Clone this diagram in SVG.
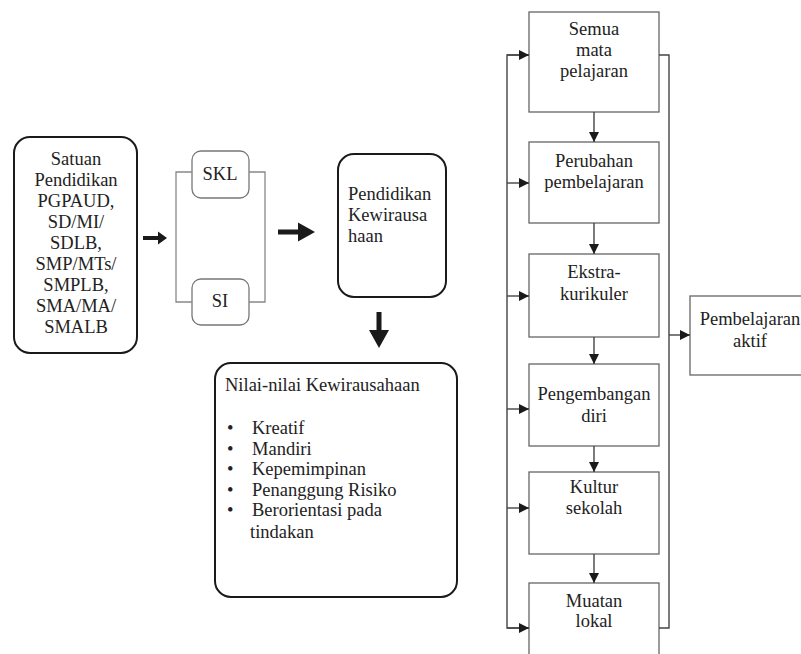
<svg xmlns="http://www.w3.org/2000/svg" width="801" height="654" viewBox="0 0 801 654" font-family="'Liberation Serif', 'DejaVu Serif', serif">
<defs>
<style>
text{font-family:'Liberation Serif','DejaVu Serif',serif;font-size:18.5px;fill:#222}
.c{text-anchor:middle}
.bold{fill:#fff;stroke:#1a1a1a;stroke-width:2}
.thin{fill:#fff;stroke:#777;stroke-width:1.3}
.box{fill:#fff;stroke:#666;stroke-width:1.3}
.ln{fill:none;stroke:#444;stroke-width:1.4}
.br{fill:none;stroke:#888;stroke-width:1.3}
.fat{fill:#1a1a1a}
</style>
<marker id="ah" viewBox="0 0 10 10" refX="10" refY="5" markerWidth="10" markerHeight="10" markerUnits="userSpaceOnUse" orient="auto">
<path d="M0,0 L10,5 L0,10 z" fill="#1a1a1a"/>
</marker>
</defs>
<rect width="801" height="654" fill="#fff"/>

<g id="satuan">
<rect class="bold" x="14" y="137" width="123" height="216" rx="16"/>
<text class="c" x="76" y="165">Satuan</text>
<text class="c" x="76" y="186">Pendidikan</text>
<text class="c" x="76" y="207">PGPAUD,</text>
<text class="c" x="76" y="228">SD/MI/</text>
<text class="c" x="76" y="249">SDLB,</text>
<text class="c" x="76" y="270">SMP/MTs/</text>
<text class="c" x="76" y="291">SMPLB,</text>
<text class="c" x="76" y="312">SMA/MA/</text>
<text class="c" x="76" y="333">SMALB</text>
</g>

<g id="skl">
<rect class="thin" x="192" y="151" width="57" height="47" rx="9"/>
<text class="c" x="220" y="180">SKL</text>
</g>
<g id="si">
<rect class="thin" x="192" y="279" width="57" height="46" rx="9"/>
<text class="c" x="220" y="307">SI</text>
</g>

<g id="pendidikan-kewirausahaan">
<rect class="bold" x="338" y="154" width="108" height="143" rx="16"/>
<text x="348" y="200">Pendidikan</text>
<text x="348" y="221">Kewirausa</text>
<text x="348" y="242">haan</text>
</g>

<g id="nilai">
<rect class="bold" x="215" y="363" width="242" height="234" rx="16"/>
<text x="225" y="391">Nilai-nilai Kewirausahaan</text>
<text x="227" y="434">•</text><text x="252" y="434">Kreatif</text>
<text x="227" y="455">•</text><text x="252" y="455">Mandiri</text>
<text x="227" y="475">•</text><text x="252" y="475">Kepemimpinan</text>
<text x="227" y="496">•</text><text x="252" y="496">Penanggung Risiko</text>
<text x="227" y="516">•</text><text x="252" y="516">Berorientasi pada</text>
<text x="250" y="538">tindakan</text>
</g>

<g id="semua-mata-pelajaran">
<rect class="box" x="529" y="12" width="130" height="100"/>
<text class="c" x="594" y="35">Semua</text>
<text class="c" x="594" y="56">mata</text>
<text class="c" x="594" y="77">pelajaran</text>
</g>
<g id="perubahan-pembelajaran">
<rect class="box" x="529" y="142" width="130" height="81"/>
<text class="c" x="594" y="167">Perubahan</text>
<text class="c" x="594" y="188">pembelajaran</text>
</g>
<g id="ekstrakurikuler">
<rect class="box" x="529" y="254" width="130" height="83"/>
<text class="c" x="594" y="278">Ekstra-</text>
<text class="c" x="594" y="300">kurikuler</text>
</g>
<g id="pengembangan-diri">
<rect class="box" x="529" y="364" width="130" height="82"/>
<text class="c" x="594" y="400">Pengembangan</text>
<text class="c" x="594" y="422">diri</text>
</g>
<g id="kultur-sekolah">
<rect class="box" x="529" y="472" width="130" height="82"/>
<text class="c" x="594" y="493">Kultur</text>
<text class="c" x="594" y="514">sekolah</text>
</g>
<g id="muatan-lokal">
<rect class="box" x="529" y="583" width="130" height="90"/>
<text class="c" x="594" y="607">Muatan</text>
<text class="c" x="594" y="627">lokal</text>
</g>
<g id="pembelajaran-aktif">
<rect class="box" x="690" y="296" width="130" height="79"/>
<text class="c" x="750" y="325">Pembelajaran</text>
<text class="c" x="750" y="347">aktif</text>
</g>

<g id="connectors">
<path class="br" d="M192,172 H176 V302 H192"/>
<path class="br" d="M249,172 H265 V302 H249"/>
<path class="fat" d="M143,236 H158 V231.5 L167,238 L158,244.5 V240 H143 z"/>
<path class="fat" d="M278,229.5 H298 V222.5 L315,232 L298,241.5 V234.5 H278 z"/>
<path class="fat" d="M376.5,312 H381.5 V330 H389 L379,348 L369,330 H376.5 z"/>
<path class="ln" d="M594,112 V142" marker-end="url(#ah)"/>
<path class="ln" d="M594,223 V254" marker-end="url(#ah)"/>
<path class="ln" d="M594,337 V364" marker-end="url(#ah)"/>
<path class="ln" d="M594,446 V472" marker-end="url(#ah)"/>
<path class="ln" d="M594,554 V583" marker-end="url(#ah)"/>
<path class="ln" d="M529,55 H507 V628 H529"/>
<path class="ln" d="M507,55 H529" marker-end="url(#ah)"/>
<path class="ln" d="M507,183 H529" marker-end="url(#ah)"/>
<path class="ln" d="M507,296 H529" marker-end="url(#ah)"/>
<path class="ln" d="M507,409 H529" marker-end="url(#ah)"/>
<path class="ln" d="M507,508 H529" marker-end="url(#ah)"/>
<path class="ln" d="M507,628 H529" marker-end="url(#ah)"/>
<path class="ln" d="M659,55 H669 V628 H659"/>
<path class="ln" d="M669,335 H690" marker-end="url(#ah)"/>
</g>
</svg>
